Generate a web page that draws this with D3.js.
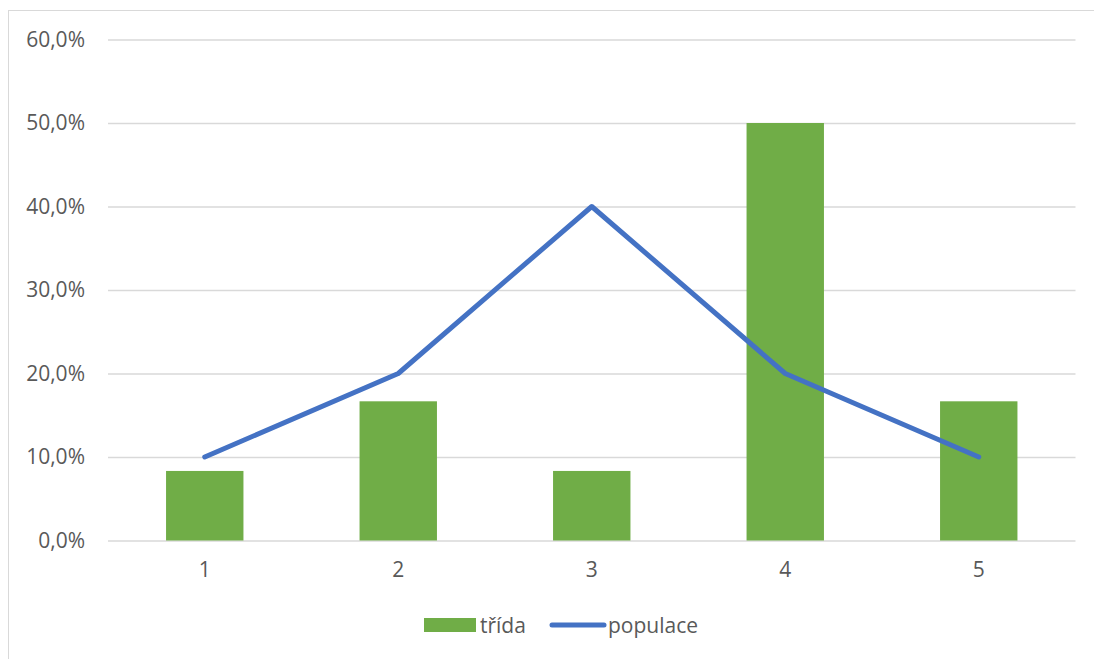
<!DOCTYPE html>
<html><head><meta charset="utf-8">
<script src="https://cdn.jsdelivr.net/npm/d3@7"></script>
<style>
html,body{margin:0;padding:0;background:#fff;}
svg{display:block;font-family:"Open Sans",sans-serif;}
</style></head>
<body><svg id="c" width="1094" height="659"></svg>
<script>
const categories = ["1","2","3","4","5"];
const trida = [0.0833, 0.1667, 0.0833, 0.5, 0.1667];
const populace = [0.10, 0.20, 0.40, 0.20, 0.10];
const yTicks = [0, 0.1, 0.2, 0.3, 0.4, 0.5, 0.6];

const svg = d3.select("#c");
const W = 1094, H = 659;
const plot = {left:108, right:1075.5, top:39.5, bottom:540.5};
const textColor = "#595959", gridColor = "#d9d9d9";
const fs = "21px";

// chart border
svg.append("rect").attr("x",8.5).attr("y",10.5).attr("width",W).attr("height",H)
  .attr("fill","none").attr("stroke","#d9d9d9").attr("stroke-width",1);

const x = d3.scaleBand().domain(categories).range([plot.left, plot.right]).padding(0);
const y = d3.scaleLinear().domain([0,0.6]).range([plot.bottom, plot.top]);
const fmt = v => d3.format(".1f")(v*100).replace(".", ",") + "%";

// gridlines
const yAxis = d3.axisLeft(y).tickValues(yTicks).tickFormat(fmt)
  .tickSize(-(plot.right-plot.left)).tickPadding(23);
const gy = svg.append("g").attr("transform",`translate(${plot.left},0)`).call(yAxis);
gy.select(".domain").remove();
gy.selectAll(".tick line").attr("stroke",gridColor).attr("stroke-width",1.3);
gy.selectAll(".tick text").attr("fill",textColor).style("font-size",fs)
  .attr("font-family","'Open Sans',sans-serif");

// bars
const bw = x.bandwidth()*0.4;
svg.append("g").selectAll("rect").data(trida).join("rect")
  .attr("x",(d,i)=>x(categories[i])+x.bandwidth()/2-bw/2)
  .attr("y",d=>y(d))
  .attr("width",bw)
  .attr("height",d=>y(0)-y(d))
  .attr("fill","#70AD47");

// x axis labels
const xAxis = d3.axisBottom(x).tickSize(0).tickPadding(22);
const gx = svg.append("g").attr("transform",`translate(0,${plot.bottom})`).call(xAxis);
gx.select(".domain").remove();
gx.selectAll(".tick text").attr("fill",textColor).style("font-size",fs)
  .attr("font-family","'Open Sans',sans-serif");

// line
const line = d3.line().x((d,i)=>x(categories[i])+x.bandwidth()/2).y(d=>y(d));
svg.append("path").datum(populace).attr("d",line)
  .attr("fill","none").attr("stroke","#4472C4").attr("stroke-width",5)
  .attr("stroke-linecap","round").attr("stroke-linejoin","round");

// legend
const lg = svg.append("g");
lg.append("rect").attr("x",424).attr("y",618).attr("width",52).attr("height",14).attr("fill","#70AD47");
lg.append("text").attr("x",480).attr("y",633).attr("fill",textColor).style("font-size",fs).text("třída");
lg.append("line").attr("x1",552).attr("x2",604).attr("y1",625).attr("y2",625)
  .attr("stroke","#4472C4").attr("stroke-width",5).attr("stroke-linecap","round");
lg.append("text").attr("x",608).attr("y",633).attr("fill",textColor).style("font-size",fs).text("populace");
</script></body></html>
